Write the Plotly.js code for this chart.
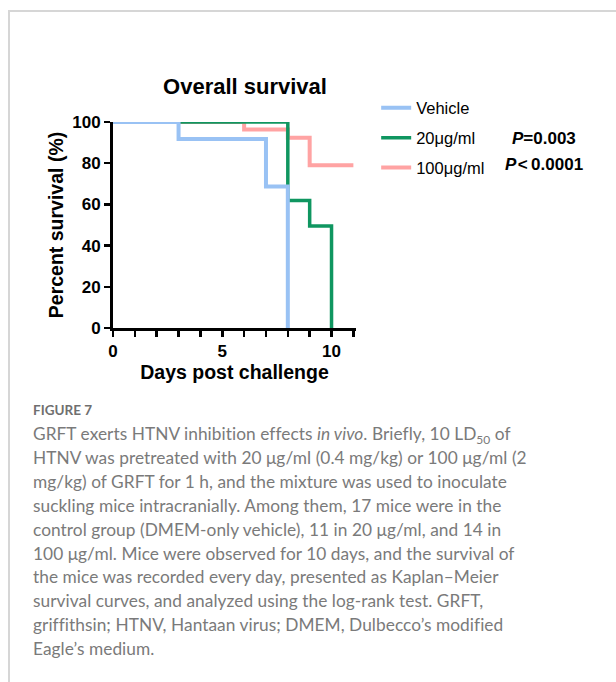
<!DOCTYPE html>
<html>
<head>
<meta charset="utf-8">
<script src="https://cdn.plot.ly/plotly-3.0.1.min.js"></script>
<style>
  html, body { margin: 0; padding: 0; background: #fff; }
  #wrap { position: relative; width: 616px; height: 682px; overflow: hidden; }
  #frame { position: absolute; left: 8px; top: 10px; width: 700px; height: 700px;
           border-top: 2px solid #d6d6d6; border-left: 2px solid #d6d6d6; }
  #chart { position: absolute; left: 0; top: 0; width: 616px; height: 682px; }
  #caption { position: absolute; left: 33px; top: 401px; color: #7a7a7a;
             font-family: "Lato", "Open Sans", sans-serif; white-space: nowrap; }
  #figlabel { font-size: 13.5px; font-weight: 700; color: #6f6f6f; line-height: 18px; margin-bottom: 3px; }
  #body { font-size: 17.3px; line-height: 23.9px; letter-spacing: 0.05px; }
</style>
</head>
<body>
<div id="wrap">
  <div id="frame"></div>
  <div id="chart"></div>
  <div id="caption">
    <div id="figlabel">FIGURE 7</div>
    <div id="body">GRFT exerts HTNV inhibition effects <i>in vivo</i>. Briefly, 10 LD<sub style="font-size:12px;line-height:0">50</sub> of<br>HTNV was pretreated with 20 μg/ml (0.4 mg/kg) or 100 μg/ml (2<br>mg/kg) of GRFT for 1 h, and the mixture was used to inoculate<br>suckling mice intracranially. Among them, 17 mice were in the<br>control group (DMEM-only vehicle), 11 in 20 μg/ml, and 14 in<br>100 μg/ml. Mice were observed for 10 days, and the survival of<br>the mice was recorded every day, presented as Kaplan–Meier<br>survival curves, and analyzed using the log-rank test. GRFT,<br>griffithsin; HTNV, Hantaan virus; DMEM, Dulbecco’s modified<br>Eagle’s medium.</div>
  </div>
</div>
<script>
// ---- data ----
const seriesNames = ["Vehicle", "20μg/ml", "100μg/ml"];
const vehicleDays = [0, 3, 7, 8];
const vehicleSurvival = [100, 91.7, 68.75, 0];
const dose20Days = [0, 8, 9, 10];
const dose20Survival = [100, 61.9, 49.5, 0];
const dose100Days = [0, 6, 8, 9, 11];
const dose100Survival = [100, 96.4, 92.3, 79, 79];
const pValues = ["=0.003", "\u200A<\u20090.0001"];
const xTickVals = [0, 5, 10];
const yTickVals = [0, 20, 40, 60, 80, 100];

const colors = {veh: "#99c2f4", d20: "#0f9660", d100: "#ffa3a3"};
const font = "Arial, 'Liberation Sans', sans-serif";

// draw order: pink bottom, green, blue top; legend order by legendrank
const traces = [
  {x: dose100Days, y: dose100Survival, name: seriesNames[2], type: "scatter", mode: "lines",
   line: {shape: "hv", color: colors.d100, width: 4}, legendgroup: "c", legendrank: 3},
  {x: dose20Days, y: dose20Survival, name: seriesNames[1], type: "scatter", mode: "lines",
   line: {shape: "hv", color: colors.d20, width: 3.5}, legendgroup: "b", legendrank: 2},
  {x: vehicleDays, y: vehicleSurvival, name: seriesNames[0], type: "scatter", mode: "lines",
   line: {shape: "hv", color: colors.veh, width: 4}, legendgroup: "a", legendrank: 1}
];

const axisCommon = {
  showgrid: false, zeroline: false, showline: true, linecolor: "#000", linewidth: 3,
  ticks: "outside", ticklen: 6, tickwidth: 2.5, tickcolor: "#000",
  tickfont: {family: font, size: 17, color: "#000", weight: 700}
};

const layout = {
  width: 616, height: 682,
  margin: {l: 113, t: 122, r: 260, b: 354},
  paper_bgcolor: "rgba(0,0,0,0)", plot_bgcolor: "rgba(0,0,0,0)",
  title: {text: "<b>Overall survival</b>", font: {family: font, size: 22, color: "#000"},
          x: 245 / 616, xanchor: "center", y: 1 - 86 / 682, yanchor: "middle"},
  xaxis: Object.assign({}, axisCommon, {
    range: [0, 11.12], tickvals: xTickVals, ticktext: xTickVals.map(v => "<b>" + v + "</b>"),
    minor: {dtick: 1, ticks: "outside", ticklen: 6, tickwidth: 2.5, tickcolor: "#000"},
    title: {text: "<b>Days post challenge</b>", font: {family: font, size: 19.5, color: "#000"}, standoff: 3}
  }),
  yaxis: Object.assign({}, axisCommon, {
    range: [0, 100], tickvals: yTickVals, ticktext: yTickVals.map(v => "<b>" + v + "</b>"),
    title: {text: "<b>Percent survival (%)</b>", font: {family: font, size: 19.5, color: "#000"}, standoff: 4}
  }),
  showlegend: true,
  legend: {x: 1.083, xanchor: "left", y: 1.153, yanchor: "top", traceorder: "grouped",
           tracegroupgap: 5.5, font: {family: font, size: 16.5, color: "#000"}, bgcolor: "rgba(0,0,0,0)"},
  annotations: [
    {xref: "paper", yref: "paper", x: 1.775, y: 0.922, xanchor: "center", yanchor: "middle", showarrow: false,
     text: "<b><i>P</i>" + pValues[0] + "</b>", font: {family: font, size: 17, color: "#000"}},
    {xref: "paper", yref: "paper", x: 1.605, y: 0.796, xanchor: "left", yanchor: "middle", showarrow: false,
     text: "<b><i>P</i>" + pValues[1] + "</b>", font: {family: font, size: 17, color: "#000"}}
  ]
};

Plotly.newPlot("chart", traces, layout, {displayModeBar: false, staticPlot: true});
</script>
</body>
</html>
